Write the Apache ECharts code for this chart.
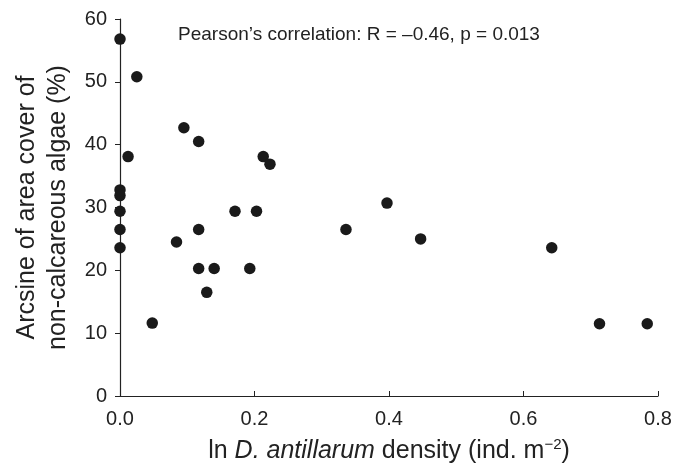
<!DOCTYPE html>
<html><head><meta charset="utf-8">
<script src="https://cdn.jsdelivr.net/npm/echarts@6/dist/echarts.min.js"></script>
<style>html,body{margin:0;padding:0;background:#fff}#c{width:681px;height:466px}</style>
</head><body><div id="c"></div>
<script>
const densityX = [0, 0.025, 0.012, 0, 0, 0, 0, 0, 0.048, 0.095, 0.117, 0.084, 0.117, 0.117, 0.140, 0.129, 0.171, 0.203, 0.193, 0.213, 0.223, 0.336, 0.397, 0.447, 0.642, 0.713, 0.784];
const algaeY  = [56.8, 50.8, 38.1, 32.8, 31.9, 29.4, 26.5, 23.6, 11.6, 42.7, 40.5, 24.5, 26.5, 20.3, 20.3, 16.5, 29.4, 29.4, 20.3, 38.1, 36.9, 26.5, 30.7, 25.0, 23.6, 11.5, 11.5];
const xTicks = [0, 0.2, 0.4, 0.6, 0.8];
const yTicks = [0, 10, 20, 30, 40, 50, 60];
const annotation = 'Pearson\u2019s correlation: R = \u20130.46, p = 0.013';

const FONT = '"Liberation Sans", Arial, Helvetica, sans-serif';
const chart = echarts.init(document.getElementById('c'), null, {renderer: 'canvas'});
chart.setOption({
  backgroundColor: '#fff',
  animation: false,
  grid: {left: 120, right: 23, top: 19, bottom: 70, containLabel: false, outerBoundsMode: 'none'},
  xAxis: {
    type: 'value', min: xTicks[0], max: xTicks[xTicks.length-1], interval: 0.2,
    axisLine: {lineStyle: {color: '#222', width: 1.2}},
    axisTick: {show: true, inside: true, length: 5, lineStyle: {color: '#222'}},
    splitLine: {show: false},
    axisLabel: {color: '#222', fontSize: 20, fontFamily: FONT, margin: 13, formatter: v => v.toFixed(1)},
    name: '{a|ln }{i|D. antillarum}{a| density (ind. m}{s|\u22122}{a|)}',
    nameLocation: 'middle', nameGap: 34,
    nameTextStyle: {
      rich: {
        a: {fontSize: 25, lineHeight: 34, fontFamily: FONT, color: '#222'},
        i: {fontSize: 25, lineHeight: 34, fontFamily: FONT, color: '#222', fontStyle: 'italic'},
        s: {fontSize: 15, lineHeight: 15, fontFamily: FONT, color: '#222', verticalAlign: 'top', padding: [3, 0, 0, 0]}
      }
    }
  },
  yAxis: {
    type: 'value', min: yTicks[0], max: yTicks[yTicks.length-1], interval: 10,
    axisLine: {show: true, lineStyle: {color: '#222', width: 1.2}},
    axisTick: {show: true, inside: false, length: 5, lineStyle: {color: '#222'}},
    splitLine: {show: false},
    axisLabel: {color: '#222', fontSize: 20, fontFamily: FONT, margin: 13},
    name: 'Arcsine of area cover of\nnon-calcareous algae (%)',
    nameLocation: 'middle', nameGap: 46, nameRotate: 90,
    nameTextStyle: {fontSize: 25, fontFamily: FONT, color: '#222', lineHeight: 31}
  },
  graphic: [{
    type: 'text', left: 178, top: 25,
    style: {text: annotation, fontSize: 19, fontFamily: FONT, fill: '#222'}
  }],
  series: [{
    type: 'scatter',
    symbolSize: 11.5,
    itemStyle: {color: '#1a1a1a', opacity: 1},
    data: densityX.map((x, i) => [x, algaeY[i]]),
    clip: false
  }]
});
</script></body></html>
